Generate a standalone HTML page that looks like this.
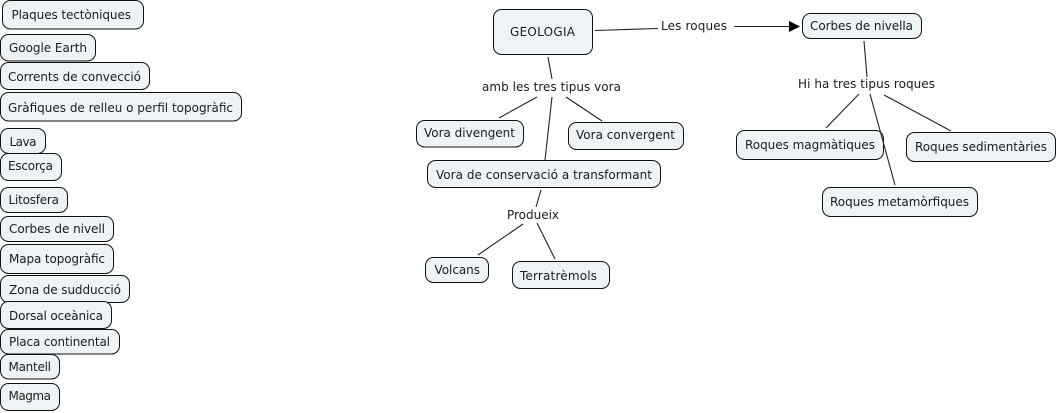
<!DOCTYPE html>
<html>
<head>
<meta charset="utf-8">
<style>
html,body{margin:0;padding:0;background:#fff;width:1058px;height:413px;overflow:hidden}
svg{display:block}
rect{fill:#eef4f6;stroke:#111;stroke-width:1}
line{stroke:#222;stroke-width:1.1}
text{font-family:"DejaVu Sans","Liberation Sans",sans-serif;font-size:12px;fill:#1c1c1c}
</style>
</head>
<body>
<svg width="1058" height="413" viewBox="0 0 1058 413" xmlns="http://www.w3.org/2000/svg">
<line x1="595" y1="30.5" x2="658" y2="28.5"/>
<line x1="734" y1="26.5" x2="790" y2="26.5"/>
<polygon points="789,21 800,26.5 789,32" fill="#000"/>
<line x1="548" y1="57" x2="552" y2="79"/>
<line x1="537" y1="97" x2="499" y2="118"/>
<line x1="552" y1="97" x2="545" y2="160"/>
<line x1="566" y1="97" x2="602" y2="121"/>
<line x1="541" y1="190" x2="536" y2="207"/>
<line x1="523" y1="224" x2="478" y2="255"/>
<line x1="537" y1="223" x2="555" y2="259"/>
<line x1="864" y1="41" x2="867" y2="77"/>
<line x1="859" y1="94" x2="826" y2="128"/>
<line x1="884" y1="95" x2="951" y2="131"/>

<rect x="2.5" y="0.5" width="141" height="28.5" rx="8"/>
<rect x="0.5" y="34.5" width="95" height="26.5" rx="8"/>
<rect x="0.5" y="62.5" width="149" height="27" rx="8"/>
<rect x="0.5" y="92.5" width="241" height="28.5" rx="8"/>
<rect x="0.5" y="128.5" width="45" height="25" rx="8"/>
<rect x="0.5" y="153.5" width="61" height="27" rx="8"/>
<rect x="0.5" y="187.5" width="67" height="25" rx="8"/>
<rect x="0.5" y="216.5" width="113" height="25" rx="8"/>
<rect x="0.5" y="244.5" width="113" height="29" rx="8"/>
<rect x="0.5" y="275.5" width="129" height="27" rx="8"/>
<rect x="0.5" y="301.5" width="111" height="27" rx="8"/>
<rect x="0.5" y="329.5" width="119" height="24.5" rx="8"/>
<rect x="0.5" y="354.5" width="59" height="24.5" rx="8"/>
<rect x="0.5" y="383.5" width="59" height="27" rx="8"/>

<rect x="493.5" y="9.5" width="99" height="45" rx="8"/>
<rect x="416.5" y="120.5" width="107" height="26.5" rx="8"/>
<rect x="568.5" y="122.5" width="115" height="27" rx="8"/>
<rect x="427.5" y="160.5" width="233" height="27" rx="8"/>
<rect x="425.5" y="257.5" width="63" height="25" rx="8"/>
<rect x="512.5" y="261.5" width="97" height="27" rx="8"/>
<rect x="802.5" y="13.5" width="119" height="25" rx="8"/>
<rect x="736.5" y="130.5" width="147" height="29" rx="8"/>
<rect x="906.5" y="132.5" width="149" height="29" rx="8"/>
<rect x="822.5" y="187.5" width="155" height="29" rx="8"/>
<line x1="870" y1="94" x2="895" y2="185"/>

<text x="11.5" y="19" textLength="119.5">Plaques tectòniques</text>
<text x="9" y="52" textLength="78">Google Earth</text>
<text x="8" y="81" textLength="133">Corrents de convecció</text>
<text x="8" y="112" textLength="225">Gràfiques de relleu o perfil topogràfic</text>
<text x="9.5" y="146" textLength="27">Lava</text>
<text x="8" y="170" textLength="45">Escorça</text>
<text x="8.5" y="204" textLength="50.5">Litosfera</text>
<text x="9" y="233" textLength="96">Corbes de nivell</text>
<text x="9" y="263" textLength="96">Mapa topogràfic</text>
<text x="9" y="294" textLength="112">Zona de sudducció</text>
<text x="9" y="320" textLength="94">Dorsal oceànica</text>
<text x="9" y="346" textLength="101">Placa continental</text>
<text x="8.5" y="371" textLength="42.5">Mantell</text>
<text x="8.5" y="400" textLength="42.5">Magma</text>

<text x="510" y="36" textLength="65">GEOLOGIA</text>
<text x="482" y="91" textLength="139">amb les tres tipus vora</text>
<text x="661" y="30" textLength="66">Les roques</text>
<text x="424" y="137" textLength="91">Vora divengent</text>
<text x="576" y="139" textLength="99">Vora convergent</text>
<text x="436" y="179" textLength="216">Vora de conservació a transformant</text>
<text x="507" y="219" textLength="52">Produeix</text>
<text x="434.5" y="274" textLength="45.5">Volcans</text>
<text x="520" y="280" textLength="77">Terratrèmols</text>
<text x="810" y="30" textLength="103">Corbes de nivella</text>
<text x="798" y="88" textLength="137">Hi ha tres tipus roques</text>
<text x="745" y="149" textLength="130">Roques magmàtiques</text>
<text x="915" y="151" textLength="132">Roques sedimentàries</text>
<text x="830" y="206" textLength="139">Roques metamòrfiques</text>
</svg>
</body>
</html>
